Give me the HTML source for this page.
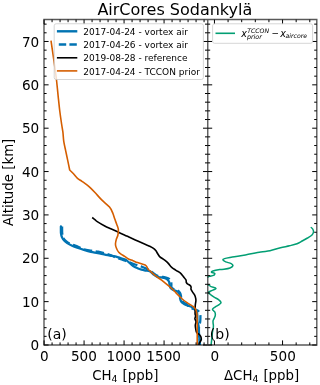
<!DOCTYPE html>
<html><head><meta charset="utf-8"><style>html,body{margin:0;padding:0;background:#fff;width:320px;height:385px;overflow:hidden;position:relative}</style></head>
<body>
<svg width="320" height="385" viewBox="0 0 320 385" style="position:absolute;left:0;top:0">
<defs><clipPath id="cl"><rect x="44.00" y="19.60" width="163.60" height="325.40"/></clipPath>
<clipPath id="cr"><rect x="207.60" y="19.60" width="109.20" height="325.40"/></clipPath></defs>
<rect width="320" height="385" fill="#fff"/>
<g clip-path="url(#cl)" fill="none" stroke-linejoin="round" stroke-linecap="butt">
<path d="M60.90 226.40C60.90 226.92 60.88 228.36 60.90 229.51C60.92 230.66 60.83 232.04 61.00 233.32C61.18 234.60 61.45 236.02 61.93 237.18C62.42 238.34 63.01 239.27 63.90 240.26C64.79 241.26 65.91 242.22 67.29 243.14C68.66 244.05 70.49 244.98 72.16 245.75C73.83 246.52 75.33 247.07 77.29 247.76C79.25 248.45 81.65 249.22 83.91 249.89C86.18 250.56 88.56 251.26 90.88 251.79C93.21 252.32 95.37 252.59 97.86 253.09C100.36 253.59 103.50 254.33 105.86 254.78C108.21 255.24 110.28 255.51 112.00 255.80C113.72 256.09 114.63 256.10 116.16 256.53C117.69 256.95 119.57 257.77 121.16 258.33C122.76 258.88 124.26 259.04 125.71 259.84C127.15 260.65 128.47 262.05 129.85 263.16C131.23 264.27 132.73 265.64 134.01 266.48C135.28 267.33 136.25 267.69 137.51 268.21C138.77 268.74 140.19 269.24 141.55 269.63C142.91 270.02 144.31 270.26 145.68 270.55C147.05 270.83 148.37 270.62 149.80 271.34C151.23 272.07 153.01 274.00 154.27 274.92C155.52 275.85 156.17 276.44 157.33 276.87C158.48 277.30 159.92 277.27 161.18 277.49C162.44 277.71 163.83 277.83 164.89 278.19C165.95 278.54 166.82 279.02 167.52 279.64C168.22 280.26 168.74 281.08 169.09 281.91C169.44 282.75 169.38 283.67 169.61 284.65C169.84 285.63 169.88 286.93 170.49 287.81C171.09 288.69 172.18 289.37 173.27 289.94C174.35 290.51 176.02 290.68 177.00 291.23C177.99 291.79 178.67 292.46 179.18 293.26C179.68 294.07 179.85 295.20 180.01 296.09C180.16 296.98 179.93 297.73 180.11 298.60C180.29 299.46 180.57 300.47 181.08 301.27C181.59 302.07 182.38 302.77 183.20 303.40C184.02 304.03 185.03 304.60 186.00 305.03C186.97 305.47 187.92 305.61 189.00 306.00C190.08 306.39 191.47 306.80 192.50 307.40C193.53 308.00 194.48 308.75 195.20 309.60C195.92 310.45 196.45 311.60 196.80 312.50C197.15 313.40 197.20 313.82 197.30 315.00C197.40 316.18 197.35 318.35 197.40 319.60C197.45 320.85 197.42 321.53 197.60 322.50C197.78 323.47 198.30 324.32 198.50 325.40C198.70 326.48 198.75 327.65 198.80 329.00C198.85 330.35 198.68 331.85 198.80 333.50C198.92 335.15 199.33 337.22 199.50 338.90C199.67 340.58 199.75 342.25 199.80 343.60C199.85 344.95 199.80 346.43 199.80 347.00" stroke="#0173b2" stroke-width="2.3" stroke-linecap="round"/>
<path d="M62.10 226.40C62.10 226.92 62.08 228.36 62.10 229.49C62.12 230.62 62.07 231.96 62.20 233.18C62.32 234.40 62.48 235.73 62.87 236.82C63.25 237.91 63.69 238.80 64.50 239.74C65.31 240.68 66.36 241.64 67.71 242.46C69.07 243.28 70.98 243.95 72.64 244.65C74.31 245.35 75.81 245.86 77.71 246.64C79.62 247.42 81.85 248.65 84.09 249.31C86.32 249.97 88.78 250.21 91.12 250.61C93.46 251.01 95.63 251.21 98.14 251.71C100.64 252.21 103.83 252.94 106.14 253.62C108.45 254.30 110.38 255.16 112.00 255.80C113.62 256.44 114.37 256.90 115.84 257.47C117.31 258.05 119.26 258.73 120.84 259.27C122.41 259.82 123.74 260.19 125.29 260.76C126.85 261.32 128.53 262.01 130.15 262.64C131.77 263.27 133.60 264.02 134.99 264.52C136.38 265.01 137.25 265.18 138.49 265.59C139.73 266.00 141.14 266.46 142.45 266.97C143.75 267.48 145.03 268.04 146.32 268.65C147.61 269.27 148.80 269.72 150.20 270.66C151.61 271.59 153.49 273.40 154.73 274.28C155.98 275.15 156.58 275.53 157.67 275.93C158.77 276.34 160.08 276.46 161.32 276.71C162.56 276.95 163.92 277.14 165.11 277.41C166.30 277.69 167.51 277.75 168.48 278.36C169.44 278.97 170.43 280.09 170.91 281.09C171.40 282.09 171.29 283.33 171.39 284.35C171.49 285.37 171.12 286.41 171.51 287.19C171.91 287.98 172.74 288.53 173.73 289.06C174.73 289.59 176.45 289.75 177.50 290.37C178.55 290.98 179.44 291.81 180.02 292.74C180.61 293.66 180.81 294.97 180.99 295.91C181.17 296.86 180.94 297.60 181.09 298.40C181.25 299.21 181.47 300.03 181.92 300.73C182.37 301.43 183.04 302.03 183.80 302.60C184.57 303.17 185.64 303.50 186.50 304.17C187.37 304.83 188.00 305.86 189.00 306.60C190.00 307.34 191.30 308.05 192.50 308.60C193.70 309.15 195.08 309.35 196.20 309.90C197.32 310.45 198.52 311.13 199.20 311.90C199.88 312.67 200.10 313.48 200.30 314.50C200.50 315.52 200.42 316.83 200.40 318.00C200.38 319.17 200.33 320.42 200.20 321.50C200.07 322.58 199.80 323.58 199.60 324.50C199.40 325.42 199.10 325.50 199.00 327.00C198.90 328.50 198.90 331.52 199.00 333.50C199.10 335.48 199.45 337.22 199.60 338.90C199.75 340.58 199.85 342.25 199.90 343.60C199.95 344.95 199.90 346.43 199.90 347.00" stroke="#0173b2" stroke-width="2.3" stroke-dasharray="8.3,3.6"/>
<path d="M92.20 217.50C92.70 217.90 94.36 219.22 95.20 219.90C96.04 220.58 95.66 220.58 97.25 221.60C98.84 222.62 102.49 224.80 104.75 226.00C107.01 227.20 108.76 227.87 110.80 228.80C112.84 229.73 114.73 230.58 117.00 231.60C119.27 232.62 122.23 233.92 124.40 234.90C126.57 235.88 127.78 236.48 130.00 237.50C132.22 238.52 135.10 239.83 137.70 241.00C140.30 242.17 143.59 243.63 145.60 244.50C147.61 245.37 148.43 245.55 149.75 246.20C151.07 246.85 152.50 247.67 153.50 248.40C154.50 249.13 155.00 249.63 155.75 250.60C156.50 251.57 157.31 253.17 158.00 254.20C158.69 255.23 159.03 255.98 159.90 256.80C160.78 257.62 162.19 258.33 163.25 259.10C164.31 259.87 165.38 260.65 166.25 261.40C167.12 262.15 167.59 262.60 168.50 263.60C169.41 264.60 170.45 266.28 171.70 267.40C172.95 268.52 174.58 269.38 176.00 270.30C177.42 271.22 178.98 271.87 180.20 272.90C181.42 273.93 182.37 275.38 183.30 276.50C184.23 277.62 185.32 278.82 185.80 279.60C186.28 280.38 186.12 280.73 186.20 281.20C186.28 281.67 186.10 281.97 186.30 282.40C186.50 282.83 186.87 283.37 187.40 283.80C187.93 284.23 188.93 284.60 189.50 285.00C190.07 285.40 190.53 285.77 190.80 286.20C191.07 286.63 191.07 287.08 191.10 287.60C191.13 288.12 190.75 288.55 191.00 289.30C191.25 290.05 191.98 291.12 192.60 292.10C193.22 293.08 194.18 294.15 194.70 295.20C195.22 296.25 195.50 297.47 195.70 298.40C195.90 299.33 195.93 299.95 195.90 300.80C195.87 301.65 195.61 302.72 195.50 303.50C195.39 304.28 195.32 304.33 195.25 305.50C195.18 306.67 195.12 309.04 195.10 310.50C195.07 311.96 195.02 313.33 195.10 314.25C195.18 315.17 195.63 315.24 195.60 316.00C195.57 316.76 194.83 317.87 194.90 318.80C194.97 319.73 195.93 320.50 196.00 321.60C196.07 322.70 195.34 324.15 195.30 325.40C195.26 326.65 195.52 327.90 195.75 329.10C195.98 330.30 196.11 331.70 196.70 332.60C197.29 333.50 198.62 333.83 199.30 334.50C199.98 335.17 200.47 335.78 200.80 336.60C201.13 337.42 201.37 338.58 201.30 339.40C201.23 340.22 200.75 340.87 200.40 341.50C200.05 342.13 199.47 342.28 199.20 343.20C198.93 344.12 198.87 346.37 198.80 347.00" stroke="#000000" stroke-width="1.6"/>
<path d="M51.00 40.60C51.63 45.00 53.88 60.43 54.80 67.00C55.72 73.57 55.95 75.23 56.50 80.00C57.05 84.77 57.55 90.39 58.10 95.60C58.65 100.81 59.22 106.52 59.80 111.25C60.38 115.98 61.08 120.51 61.60 124.00C62.12 127.49 62.53 129.25 62.90 132.20C63.27 135.15 63.33 138.60 63.80 141.70C64.27 144.80 65.07 147.77 65.70 150.80C66.33 153.83 66.93 156.70 67.60 159.90C68.27 163.10 69.35 168.32 69.70 170.00C70.33 170.63 72.24 172.45 73.50 173.80C74.76 175.15 75.85 176.85 77.25 178.10C78.65 179.35 80.34 180.22 81.90 181.30C83.46 182.38 85.18 183.50 86.60 184.60C88.02 185.70 88.97 186.53 90.40 187.90C91.83 189.27 93.32 190.80 95.20 192.80C97.08 194.80 99.32 197.52 101.70 199.90C104.08 202.28 107.67 204.93 109.50 207.10C111.33 209.27 111.83 210.95 112.70 212.90C113.57 214.85 114.05 216.95 114.70 218.80C115.35 220.65 116.00 222.27 116.60 224.00C117.20 225.73 118.08 227.37 118.30 229.20C118.52 231.03 118.22 233.37 117.90 235.00C117.58 236.63 116.80 237.58 116.40 239.00C116.00 240.42 115.60 242.27 115.50 243.50C115.40 244.73 115.51 245.32 115.80 246.40C116.09 247.48 116.76 249.03 117.25 250.00C117.74 250.97 118.12 251.57 118.75 252.25C119.38 252.93 120.00 253.41 121.00 254.10C122.00 254.79 123.50 255.58 124.75 256.40C126.00 257.22 127.12 258.28 128.50 259.00C129.88 259.72 131.50 260.10 133.00 260.70C134.50 261.30 135.50 261.90 137.50 262.60C139.50 263.30 143.75 264.52 145.00 264.90C145.27 265.15 146.05 265.63 146.60 266.40C147.15 267.17 147.63 268.67 148.30 269.50C148.97 270.33 149.69 270.58 150.60 271.40C151.51 272.22 152.60 273.42 153.75 274.40C154.90 275.38 156.25 276.33 157.50 277.25C158.75 278.17 160.00 278.96 161.25 279.90C162.50 280.84 163.75 281.90 165.00 282.90C166.25 283.90 167.50 284.84 168.75 285.90C170.00 286.96 171.46 288.27 172.50 289.25C173.54 290.23 173.83 290.62 175.00 291.80C176.17 292.98 178.00 294.85 179.50 296.30C181.00 297.75 182.50 299.28 184.00 300.50C185.50 301.72 186.92 302.56 188.50 303.60C190.08 304.64 192.35 305.85 193.50 306.75C194.65 307.65 194.93 308.27 195.40 309.00C195.87 309.73 196.05 310.23 196.30 311.10C196.55 311.98 196.77 313.10 196.90 314.25C197.03 315.40 197.05 316.71 197.10 318.00C197.15 319.29 197.18 317.17 197.20 322.00C197.22 326.83 197.20 342.83 197.20 347.00" stroke="#d55e00" stroke-width="1.6"/>
</g>
<g clip-path="url(#cr)" fill="none" stroke-linejoin="round">
<path d="M310.80 227.20C311.12 227.50 312.25 228.20 312.70 229.00C313.15 229.80 313.62 231.00 313.50 232.00C313.38 233.00 313.00 234.00 312.00 235.00C311.00 236.00 309.13 237.00 307.50 238.00C305.87 239.00 303.95 240.05 302.20 241.00C300.45 241.95 299.12 242.90 297.00 243.70C294.88 244.50 292.25 245.12 289.50 245.80C286.75 246.48 283.75 246.93 280.50 247.75C277.25 248.57 273.30 250.04 270.00 250.75C266.70 251.46 264.80 251.31 260.70 252.00C256.60 252.69 250.14 254.05 245.40 254.90C240.66 255.75 235.72 256.48 232.25 257.10C228.78 257.72 226.14 258.10 224.60 258.60C223.06 259.10 222.82 259.55 223.00 260.10C223.18 260.65 224.33 261.32 225.70 261.90C227.07 262.48 230.00 262.95 231.20 263.60C232.40 264.25 233.10 265.07 232.90 265.80C232.70 266.53 231.48 267.42 230.00 268.00C228.52 268.58 225.71 269.03 224.00 269.30C222.29 269.57 221.60 269.32 219.75 269.60C217.90 269.88 214.26 270.56 212.90 271.00C211.54 271.44 211.29 271.83 211.60 272.25C211.91 272.67 214.43 272.98 214.75 273.50C215.07 274.02 214.33 274.94 213.50 275.40C212.67 275.86 210.68 275.98 209.75 276.25C208.82 276.52 209.53 276.54 207.90 277.00C206.28 277.46 201.32 277.83 200.00 279.00C198.68 280.17 198.68 283.04 200.00 284.00C201.32 284.96 206.07 284.32 207.90 284.75C209.73 285.18 209.65 285.98 211.00 286.60C212.35 287.23 215.79 287.87 216.00 288.50C216.21 289.13 213.50 289.77 212.25 290.40C211.00 291.02 208.92 291.65 208.50 292.25C208.08 292.85 208.82 293.19 209.75 294.00C210.68 294.81 212.64 296.17 214.10 297.10C215.56 298.03 217.35 298.72 218.50 299.60C219.65 300.48 220.90 301.57 221.00 302.40C221.10 303.23 220.03 303.87 219.10 304.60C218.17 305.33 216.48 306.07 215.40 306.80C214.32 307.53 212.95 308.38 212.60 309.00C212.25 309.62 212.97 310.07 213.30 310.50C213.63 310.93 214.28 311.12 214.60 311.60C214.92 312.08 215.14 312.73 215.25 313.40C215.36 314.07 215.41 314.82 215.25 315.60C215.09 316.38 214.66 317.27 214.30 318.10C213.94 318.93 213.30 319.77 213.10 320.60C212.90 321.43 213.05 322.27 213.10 323.10C213.15 323.93 213.38 324.70 213.40 325.60C213.42 326.50 213.35 327.43 213.20 328.50C213.05 329.57 212.67 330.92 212.50 332.00C212.33 333.08 212.33 333.77 212.20 335.00C212.07 336.23 211.87 337.90 211.70 339.40C211.53 340.90 211.30 342.73 211.20 344.00C211.10 345.27 211.12 346.50 211.10 347.00" stroke="#029e73" stroke-width="1.5"/>
</g>
<path d="M44.07 345.00V340.40M44.07 19.60V24.20M52.07 345.00V342.40M52.07 19.60V22.20M60.07 345.00V342.40M60.07 19.60V22.20M68.07 345.00V342.40M68.07 19.60V22.20M76.07 345.00V342.40M76.07 19.60V22.20M84.07 345.00V340.40M84.07 19.60V24.20M92.07 345.00V342.40M92.07 19.60V22.20M100.07 345.00V342.40M100.07 19.60V22.20M108.07 345.00V342.40M108.07 19.60V22.20M116.07 345.00V342.40M116.07 19.60V22.20M124.07 345.00V340.40M124.07 19.60V24.20M132.07 345.00V342.40M132.07 19.60V22.20M140.07 345.00V342.40M140.07 19.60V22.20M148.07 345.00V342.40M148.07 19.60V22.20M156.07 345.00V342.40M156.07 19.60V22.20M164.07 345.00V340.40M164.07 19.60V24.20M172.07 345.00V342.40M172.07 19.60V22.20M180.07 345.00V342.40M180.07 19.60V22.20M188.07 345.00V342.40M188.07 19.60V22.20M196.07 345.00V342.40M196.07 19.60V22.20M204.07 345.00V342.40M204.07 19.60V22.20M214.45 345.00V340.40M214.45 19.60V24.20M228.07 345.00V342.40M228.07 19.60V22.20M241.69 345.00V342.40M241.69 19.60V22.20M255.31 345.00V342.40M255.31 19.60V22.20M268.93 345.00V342.40M268.93 19.60V22.20M282.55 345.00V340.40M282.55 19.60V24.20M296.17 345.00V342.40M296.17 19.60V22.20M309.79 345.00V342.40M309.79 19.60V22.20M44.00 345.00H48.60M207.60 345.00H203.00M207.60 345.00H212.20M316.80 345.00H312.20M44.00 336.33H46.60M207.60 336.33H205.00M207.60 336.33H210.20M316.80 336.33H314.20M44.00 327.66H46.60M207.60 327.66H205.00M207.60 327.66H210.20M316.80 327.66H314.20M44.00 318.98H46.60M207.60 318.98H205.00M207.60 318.98H210.20M316.80 318.98H314.20M44.00 310.31H46.60M207.60 310.31H205.00M207.60 310.31H210.20M316.80 310.31H314.20M44.00 301.64H48.60M207.60 301.64H203.00M207.60 301.64H212.20M316.80 301.64H312.20M44.00 292.97H46.60M207.60 292.97H205.00M207.60 292.97H210.20M316.80 292.97H314.20M44.00 284.30H46.60M207.60 284.30H205.00M207.60 284.30H210.20M316.80 284.30H314.20M44.00 275.62H46.60M207.60 275.62H205.00M207.60 275.62H210.20M316.80 275.62H314.20M44.00 266.95H46.60M207.60 266.95H205.00M207.60 266.95H210.20M316.80 266.95H314.20M44.00 258.28H48.60M207.60 258.28H203.00M207.60 258.28H212.20M316.80 258.28H312.20M44.00 249.61H46.60M207.60 249.61H205.00M207.60 249.61H210.20M316.80 249.61H314.20M44.00 240.94H46.60M207.60 240.94H205.00M207.60 240.94H210.20M316.80 240.94H314.20M44.00 232.26H46.60M207.60 232.26H205.00M207.60 232.26H210.20M316.80 232.26H314.20M44.00 223.59H46.60M207.60 223.59H205.00M207.60 223.59H210.20M316.80 223.59H314.20M44.00 214.92H48.60M207.60 214.92H203.00M207.60 214.92H212.20M316.80 214.92H312.20M44.00 206.25H46.60M207.60 206.25H205.00M207.60 206.25H210.20M316.80 206.25H314.20M44.00 197.58H46.60M207.60 197.58H205.00M207.60 197.58H210.20M316.80 197.58H314.20M44.00 188.90H46.60M207.60 188.90H205.00M207.60 188.90H210.20M316.80 188.90H314.20M44.00 180.23H46.60M207.60 180.23H205.00M207.60 180.23H210.20M316.80 180.23H314.20M44.00 171.56H48.60M207.60 171.56H203.00M207.60 171.56H212.20M316.80 171.56H312.20M44.00 162.89H46.60M207.60 162.89H205.00M207.60 162.89H210.20M316.80 162.89H314.20M44.00 154.22H46.60M207.60 154.22H205.00M207.60 154.22H210.20M316.80 154.22H314.20M44.00 145.54H46.60M207.60 145.54H205.00M207.60 145.54H210.20M316.80 145.54H314.20M44.00 136.87H46.60M207.60 136.87H205.00M207.60 136.87H210.20M316.80 136.87H314.20M44.00 128.20H48.60M207.60 128.20H203.00M207.60 128.20H212.20M316.80 128.20H312.20M44.00 119.53H46.60M207.60 119.53H205.00M207.60 119.53H210.20M316.80 119.53H314.20M44.00 110.86H46.60M207.60 110.86H205.00M207.60 110.86H210.20M316.80 110.86H314.20M44.00 102.18H46.60M207.60 102.18H205.00M207.60 102.18H210.20M316.80 102.18H314.20M44.00 93.51H46.60M207.60 93.51H205.00M207.60 93.51H210.20M316.80 93.51H314.20M44.00 84.84H48.60M207.60 84.84H203.00M207.60 84.84H212.20M316.80 84.84H312.20M44.00 76.17H46.60M207.60 76.17H205.00M207.60 76.17H210.20M316.80 76.17H314.20M44.00 67.50H46.60M207.60 67.50H205.00M207.60 67.50H210.20M316.80 67.50H314.20M44.00 58.82H46.60M207.60 58.82H205.00M207.60 58.82H210.20M316.80 58.82H314.20M44.00 50.15H46.60M207.60 50.15H205.00M207.60 50.15H210.20M316.80 50.15H314.20M44.00 41.48H48.60M207.60 41.48H203.00M207.60 41.48H212.20M316.80 41.48H312.20M44.00 32.81H46.60M207.60 32.81H205.00M207.60 32.81H210.20M316.80 32.81H314.20M44.00 24.14H46.60M207.60 24.14H205.00M207.60 24.14H210.20M316.80 24.14H314.20" stroke="#000" stroke-width="1.00" fill="none"/>
<path d="M44.00 19.50H316.80M44.00 345.00H316.80M44.00 19.50V345.00M316.80 19.50V345.00M207.75 19.50V345.00" stroke="#000" stroke-opacity="0.65" stroke-width="1.40" fill="none" stroke-linecap="square"/>
<g font-family="'DejaVu Sans', 'Liberation Sans', sans-serif" fill="#000">
<text x="97.4" y="15" font-size="16">AirCores Sodankylä</text>
<text x="39.2" y="350.20" font-size="13.6" text-anchor="end">0</text>
<text x="39.2" y="306.84" font-size="13.6" text-anchor="end">10</text>
<text x="39.2" y="263.48" font-size="13.6" text-anchor="end">20</text>
<text x="39.2" y="220.12" font-size="13.6" text-anchor="end">30</text>
<text x="39.2" y="176.76" font-size="13.6" text-anchor="end">40</text>
<text x="39.2" y="133.40" font-size="13.6" text-anchor="end">50</text>
<text x="39.2" y="90.04" font-size="13.6" text-anchor="end">60</text>
<text x="39.2" y="46.68" font-size="13.6" text-anchor="end">70</text>
<text x="44.37" y="360.7" font-size="13.6" text-anchor="middle">0</text>
<text x="83.87" y="360.7" font-size="13.6" text-anchor="middle">500</text>
<text x="123.87" y="360.7" font-size="13.6" text-anchor="middle">1000</text>
<text x="163.67" y="360.7" font-size="13.6" text-anchor="middle">1500</text>
<text x="214.75" y="360.7" font-size="13.6" text-anchor="middle">0</text>
<text x="282.85" y="360.7" font-size="13.6" text-anchor="middle">500</text>
<text transform="translate(13.3,182.4) rotate(-90)" font-size="13.33" text-anchor="middle">Altitude [km]</text>
<text x="125.3" y="380.3" font-size="13.33" text-anchor="middle">CH<tspan font-size="9.33" dy="1.8">4</tspan><tspan dy="-1.8" dx="0.8"> [ppb]</tspan></text>
<text x="261.6" y="380.3" font-size="13.33" text-anchor="middle">ΔCH<tspan font-size="9.33" dy="1.8">4</tspan><tspan dy="-1.8" dx="0.8"> [ppb]</tspan></text>
<text x="47.3" y="338.8" font-size="14">(a)</text>
<text x="209.8" y="338.8" font-size="14">(b)</text>
</g>
<rect x="54.2" y="23.75" width="149.2" height="55.75" rx="2" ry="2" fill="#fff" fill-opacity="0.8" stroke="#ccc" stroke-opacity="0.8" stroke-width="1"/>
<line x1="56.9" y1="31.30" x2="77.3" y2="31.30" stroke="#0173b2" stroke-width="2.40"/>
<text x="83.3" y="34.90" font-family="'DejaVu Sans', 'Liberation Sans', sans-serif" font-size="9.0">2017-04-24 - vortex air</text>
<line x1="56.9" y1="44.50" x2="77.3" y2="44.50" stroke="#0173b2" stroke-width="2.40" stroke-dasharray="7.4,3.2" stroke-dashoffset="-1.9"/>
<text x="83.3" y="48.10" font-family="'DejaVu Sans', 'Liberation Sans', sans-serif" font-size="9.0">2017-04-26 - vortex air</text>
<line x1="56.9" y1="57.80" x2="77.3" y2="57.80" stroke="#000000" stroke-width="1.60"/>
<text x="83.3" y="61.40" font-family="'DejaVu Sans', 'Liberation Sans', sans-serif" font-size="9.0">2019-08-28 - reference</text>
<line x1="56.9" y1="70.90" x2="77.3" y2="70.90" stroke="#d55e00" stroke-width="1.60"/>
<text x="83.3" y="74.50" font-family="'DejaVu Sans', 'Liberation Sans', sans-serif" font-size="9.0">2017-04-24 - TCCON prior</text>
<rect x="212.6" y="23.8" width="100" height="19.5" rx="2" ry="2" fill="#fff" fill-opacity="0.8" stroke="#ccc" stroke-opacity="0.8" stroke-width="1"/>
<line x1="215.5" y1="33.3" x2="235" y2="33.3" stroke="#029e73" stroke-width="1.6"/>
<g font-family="'DejaVu Sans', 'Liberation Sans', sans-serif" font-style="italic" fill="#000">
<text x="241.2" y="36.6" font-size="9.6">x</text>
<text x="247.2" y="32.8" font-size="6.2">TCCON</text>
<text x="246.9" y="39.0" font-size="6.4">prior</text>
<text x="271.5" y="35.6" font-size="8.9" font-style="normal">−</text>
<text x="280.3" y="36.6" font-size="9.6">x</text>
<text x="285.5" y="38.3" font-size="6.2">aircore</text>
</g>
</svg>
</body></html>
